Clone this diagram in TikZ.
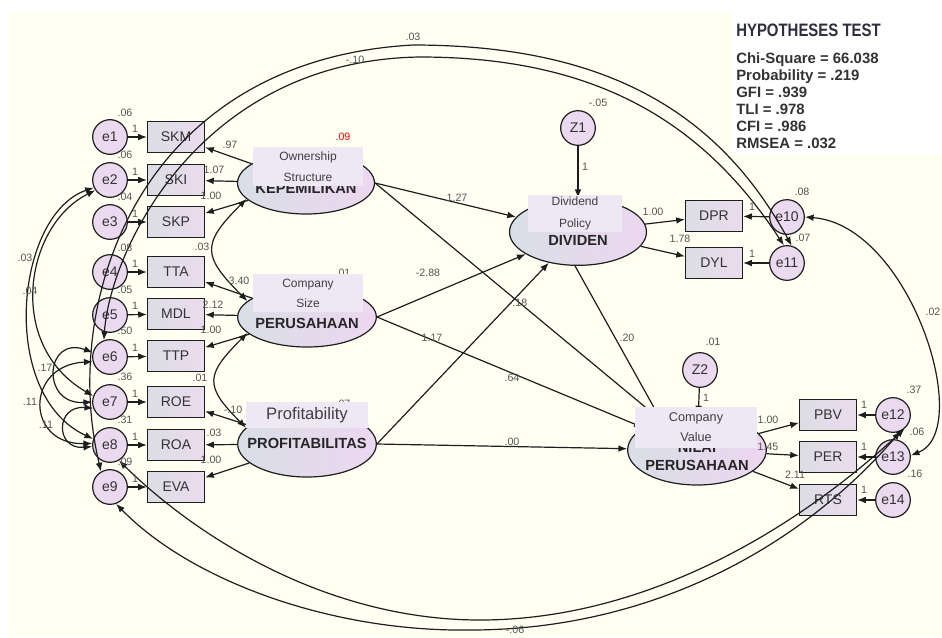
\documentclass[tikz,border=0pt]{standalone}
\usepackage{fontspec}
\setmainfont{Liberation Sans}
\usetikzlibrary{arrows.meta}
\usetikzlibrary{positioning,shapes.geometric}
\definecolor{paper}{HTML}{FFFFF2}
\definecolor{ink}{HTML}{1E1E1E}
\definecolor{txt}{HTML}{333333}
\definecolor{numgray}{HTML}{555555}
\definecolor{boxl}{HTML}{DCDDE4}
\definecolor{boxr}{HTML}{EADCEE}
\definecolor{errfill}{HTML}{EAD9EF}
\definecolor{latl}{HTML}{D9DEE6}
\definecolor{latr}{HTML}{EDD7F0}
\definecolor{tagfill}{HTML}{EEE7F4}
\definecolor{titleink}{HTML}{2E2E3E}
\tikzset{
    obsvar/.style={
        draw=ink, line width=0.9pt, rectangle,
        left color=boxl, right color=boxr,
        minimum width=42.75pt, minimum height=23.25pt,
        inner sep=0pt, text=txt,
        font=\fontsize{10.5}{12}\selectfont
    },
    errvar/.style={
        draw=ink, line width=0.9pt, circle, fill=errfill,
        minimum size=26pt, inner sep=0pt, text=txt,
        font=\fontsize{10.5}{12}\selectfont
    },
    latvar/.style={
        draw=ink, line width=0.9pt, ellipse,
        left color=latl, right color=latr,
        inner sep=0pt, text=black!85,
        font=\bfseries\fontsize{11}{13.5}\selectfont
    },
    tagbox/.style={
        fill=tagfill, inner sep=0pt, align=center, text=black!75
    },
    est/.style={
        inner sep=0pt, text=numgray,
        font=\fontsize{8}{9}\selectfont
    },
    regarr/.style={
        draw=ink, line width=0.9pt,
        -{Latex[length=6.5pt, width=5pt]}
    },
    covarr/.style={
        draw=ink, line width=0.9pt,
        {Latex[length=6.5pt, width=5pt]}-{Latex[length=6.5pt, width=5pt]}
    }
}

\begin{document}
\begin{tikzpicture}[x=0.75pt, y=0.75pt]
  \useasboundingbox (0,0) rectangle (942,-637);
  \fill[paper] (8,-12) rectangle (942,-637);
  \fill[white] (732,-12) rectangle (942,-155);

  % Error terms
  \node[errvar] (e1) at (110,-137) {e1};
  \node[errvar] (e2) at (110,-180) {e2};
  \node[errvar] (e3) at (110,-222) {e3};
  \node[errvar] (e4) at (110,-272) {e4};
  \node[errvar] (e5) at (110,-315) {e5};
  \node[errvar] (e6) at (110,-357) {e6};
  \node[errvar] (e7) at (110,-402) {e7};
  \node[errvar] (e8) at (110,-445) {e8};
  \node[errvar] (e9) at (110,-487) {e9};
  \node[errvar] (e10) at (787,-217) {e10};
  \node[errvar] (e11) at (787,-263) {e11};
  \node[errvar] (e12) at (893,-415) {e12};
  \node[errvar] (e13) at (893,-457) {e13};
  \node[errvar] (e14) at (893,-500) {e14};

  % Disturbances
  \node[errvar] (z1) at (578,-128) {Z1};
  \node[errvar] (z2) at (700,-370) {Z2};

  % Indicators
  \node[obsvar] (skm) at (176,-137) {SKM};
  \node[obsvar] (ski) at (176,-180) {SKI};
  \node[obsvar] (skp) at (176,-222) {SKP};
  \node[obsvar] (tta) at (176,-272) {TTA};
  \node[obsvar] (mdl) at (176,-314) {MDL};
  \node[obsvar] (ttp) at (176,-356) {TTP};
  \node[obsvar] (roe) at (176,-402) {ROE};
  \node[obsvar] (roa) at (176,-445) {ROA};
  \node[obsvar] (eva) at (176,-487) {EVA};
  \node[obsvar] (dpr) at (714,-216) {DPR};
  \node[obsvar] (dyl) at (714,-263) {DYL};
  \node[obsvar] (pbv) at (828,-415) {PBV};
  \node[obsvar] (per) at (828,-457) {PER};
  \node[obsvar] (rts) at (828,-500) {RTS};

  % Latent variables
  \node[latvar, minimum width=102.75pt, minimum height=46.5pt] (own) at (306,-183)
    {\raisebox{-7.65pt}[0pt][0pt]{\makebox[0pt]{KEPEMILIKAN}}};
  \node[latvar, minimum width=104pt, minimum height=45pt] (size) at (307,-317)
    {\raisebox{-8.4pt}[0pt][0pt]{\makebox[0pt]{PERUSAHAAN}}};
  \node[latvar, minimum width=104pt, minimum height=49.5pt] (prof) at (307,-444)
    {\raisebox{-3.15pt}[0pt][0pt]{\makebox[0pt]{PROFITABILITAS}}};
  \node[latvar, minimum width=102.75pt, minimum height=50pt] (divd) at (578,-232)
    {\raisebox{-9.9pt}[0pt][0pt]{\makebox[0pt]{DIVIDEN}}};
  \node[latvar, minimum width=104pt, minimum height=52.5pt] (val) at (697,-450)
    {\raisebox{-15.15pt}[0pt][0pt]{\makebox[0pt]{\begin{tabular}[b]{@{}c@{}}NILAI\\PERUSAHAAN\end{tabular}}}};

  % Measurement paths
  \draw[regarr] (e1) -- (skm);
  \draw[regarr] (e2) -- (ski);
  \draw[regarr] (e3) -- (skp);
  \draw[regarr] (e4) -- (tta);
  \draw[regarr] (e5) -- (mdl);
  \draw[regarr] (e6) -- (ttp);
  \draw[regarr] (e7) -- (roe);
  \draw[regarr] (e8) -- (roa);
  \draw[regarr] (e9) -- (eva);
  \draw[regarr] (e10) -- (dpr);
  \draw[regarr] (e11) -- (dyl);
  \draw[regarr] (e12) -- (pbv);
  \draw[regarr] (e13) -- (per);
  \draw[regarr] (e14) -- (rts);
  \draw[regarr] (own) -- (skm);
  \draw[regarr] (own) -- (ski);
  \draw[regarr] (own) -- (skp);
  \draw[regarr] (size) -- (tta);
  \draw[regarr] (size) -- (mdl);
  \draw[regarr] (size) -- (ttp);
  \draw[regarr] (prof) -- (roe);
  \draw[regarr] (prof) -- (roa);
  \draw[regarr] (prof) -- (eva);
  \draw[regarr] (divd) -- (dpr);
  \draw[regarr] (divd) -- (dyl);
  \draw[regarr] (val) -- (pbv);
  \draw[regarr] (val) -- (per);
  \draw[regarr] (val) -- (rts);

  % Structural paths
  \draw[regarr] (own.east) -- (divd);
  \draw[regarr] (own.east) -- (val);
  \draw[regarr] (size.east) -- (divd);
  \draw[regarr] (size.east) -- (val);
  \draw[regarr] (prof.east) -- (divd);
  \draw[regarr] (prof.east) -- (val);
  \draw[regarr] (divd.265) -- (val.140);
  \draw[regarr] (z1) -- (divd);
  \draw[regarr] (z2) -- (val);

  % Covariances
  \draw[covarr] (own.195) to[out=225, in=135, looseness=1.6] (size.165);
  \draw[covarr] (size.195) to[out=225, in=135, looseness=1.6] (prof.165);
  \draw[covarr] (e9.120) .. controls (60,-300) and (140,-60) .. (413,-45)
                .. controls (610,-45) and (720,-115) .. (e11.75);
  \draw[covarr] (e6.110) .. controls (110,-250) and (200,-60) .. (420,-57)
                .. controls (600,-57) and (705,-125) .. (e11.100);
  \draw[covarr] (e8.300) .. controls (200,-540) and (330,-620) .. (480,-620)
                .. controls (640,-620) and (790,-535) .. (e12.310);
  \draw[covarr] (e9.290) .. controls (190,-580) and (330,-632) .. (470,-630)
                .. controls (650,-630) and (800,-548) .. (e12.295);
  \draw[covarr] (e10.east) .. controls (910,-225) and (975,-430) .. (e13.5);
  \draw[covarr] (e2.215) .. controls (25,-225) and (5,-345) .. (e7.160);
  \draw[covarr] (e2.205) .. controls (15,-215) and (-2,-395) .. (e8.160);
  \draw[covarr] (e6.165) .. controls (45,-335) and (40,-405) .. (e7.180);
  \draw[covarr] (e6.195) .. controls (25,-365) and (25,-445) .. (e8.175);
  \draw[covarr] (e7.200) .. controls (55,-405) and (55,-450) .. (e8.185);

  % Error variances
  \node[est] (v1) at (125,-113) {.06};
  \node[est] (v2) at (125,-155) {.06};
  \node[est] (v3) at (125,-197) {.04};
  \node[est] (v4) at (125,-248) {.08};
  \node[est] (v5) at (125,-290) {.05};
  \node[est] (v6) at (125,-331) {.50};
  \node[est] (v7) at (125,-377) {.36};
  \node[est] (v8) at (125,-420) {.31};
  \node[est] (v9) at (125,-462) {.09};
  \node[est] (v10) at (802,-192) {.08};
  \node[est] (v11) at (803,-238) {.07};
  \node[est] (v12) at (914,-390) {.37};
  \node[est] (v13) at (917,-432) {.06};
  \node[est] (v14) at (915,-474) {.16};

  % Fixed weights
  \node[est] (f1) at (135,-129) {1};
  \node[est] (f2) at (135,-172) {1};
  \node[est] (f3) at (135,-214) {1};
  \node[est] (f4) at (135,-264) {1};
  \node[est] (f5) at (135,-306) {1};
  \node[est] (f6) at (135,-348) {1};
  \node[est] (f7) at (135,-394) {1};
  \node[est] (f8) at (135,-437) {1};
  \node[est] (f9) at (135,-479) {1};
  \node[est] (f10) at (752,-207) {1};
  \node[est] (f11) at (752,-254) {1};
  \node[est] (f12) at (864,-405) {1};
  \node[est] (f13) at (864,-447) {1};
  \node[est] (f14) at (864,-490) {1};
  \node[est] (f15) at (585,-167) {1};
  \node[est] (f16) at (706,-398) {1};

  % Loadings
  \node[est] (l1) at (230,-145) {.97};
  \node[est] (l2) at (214,-170) {1.07};
  \node[est] (l3) at (211,-196) {1.00};
  \node[est] (l4) at (239,-281) {3.40};
  \node[est] (l5) at (213,-305) {2.12};
  \node[est] (l6) at (211,-330) {1.00};
  \node[est] (l7) at (233,-410) {-.10};
  \node[est] (l8) at (214,-433) {.03};
  \node[est] (l9) at (211,-460) {1.00};
  \node[est] (l10) at (653,-212) {1.00};
  \node[est] (l11) at (680,-239) {1.78};
  \node[est] (l12) at (768,-420) {1.00};
  \node[est] (l13) at (768,-447) {1.45};
  \node[est] (l14) at (795,-475) {2.11};

  % Path coefficients
  \node[est] (b1) at (457,-198) {1.27};
  \node[est] (b2) at (518,-303) {-.18};
  \node[est] (b3) at (428,-273) {-2.88};
  \node[est] (b4) at (512,-378) {.64};
  \node[est] (b5) at (432,-338) {1.17};
  \node[est] (b6) at (512,-442) {.00};
  \node[est] (b7) at (627,-338) {.20};

  % Latent variances
  \node[est, text=red] (r1) at (343,-137) {.09};
  \node[est] (r2) at (343,-273) {.01};
  \node[est] (r3) at (343,-404) {.07};
  \node[est] (r4) at (598,-103) {-.05};
  \node[est] (r5) at (713,-342) {.01};

  % Covariance estimates
  \node[est] (c1) at (202,-247) {.03};
  \node[est] (c2) at (200,-378) {.01};
  \node[est] (c3) at (413,-37) {.03};
  \node[est] (c4) at (355,-60) {-.10};
  \node[est] (c5) at (25,-258) {.03};
  \node[est] (c6) at (30,-291) {.04};
  \node[est] (c7) at (45,-368) {.17};
  \node[est] (c8) at (30,-402) {.11};
  \node[est] (c9) at (46,-425) {.11};
  \node[est] (c10) at (515,-630) {-.06};
  \node[est] (c11) at (933,-312) {.02};

  % Name tags over the latent variables
  \node[tagbox, minimum width=82.5pt, minimum height=29.25pt,
        font=\fontsize{9}{15.75}\selectfont] (ownTag) at (308,-166.5) {Ownership\\Structure};
  \node[tagbox, minimum width=82.5pt, minimum height=28.5pt,
        font=\fontsize{9}{15}\selectfont] (sizeTag) at (308,-293) {Company\\Size};
  \node[tagbox, minimum width=91pt, minimum height=19.5pt,
        font=\fontsize{12.5}{14}\selectfont] (profTag) at (307,-415) {Profitability};
  \node[tagbox, minimum width=71pt, minimum height=27.75pt,
        font=\fontsize{9}{16.5}\selectfont] (divdTag) at (575,-213.5) {Dividend\\Policy};
  \node[tagbox, minimum width=91.5pt, minimum height=30.75pt,
        font=\fontsize{9.5}{15}\selectfont] (valTag) at (696,-427.5) {Company\\Value};

  % Fit statistics
  \node[anchor=west, inner sep=0pt, text=titleink,
        font=\bfseries\fontsize{13.5}{15}\selectfont] (title) at (736,-30)
    {\scalebox{0.83}[1]{HYPOTHESES TEST}};
  \node[anchor=north west, align=left, inner sep=0pt, text=txt,
        font=\bfseries\fontsize{11.2}{12.75}\selectfont] (fit) at (736,-52)
    {Chi-Square = 66.038\\Probability = .219\\GFI = .939\\TLI = .978\\CFI = .986\\RMSEA = .032};
\end{tikzpicture}
\end{document}
